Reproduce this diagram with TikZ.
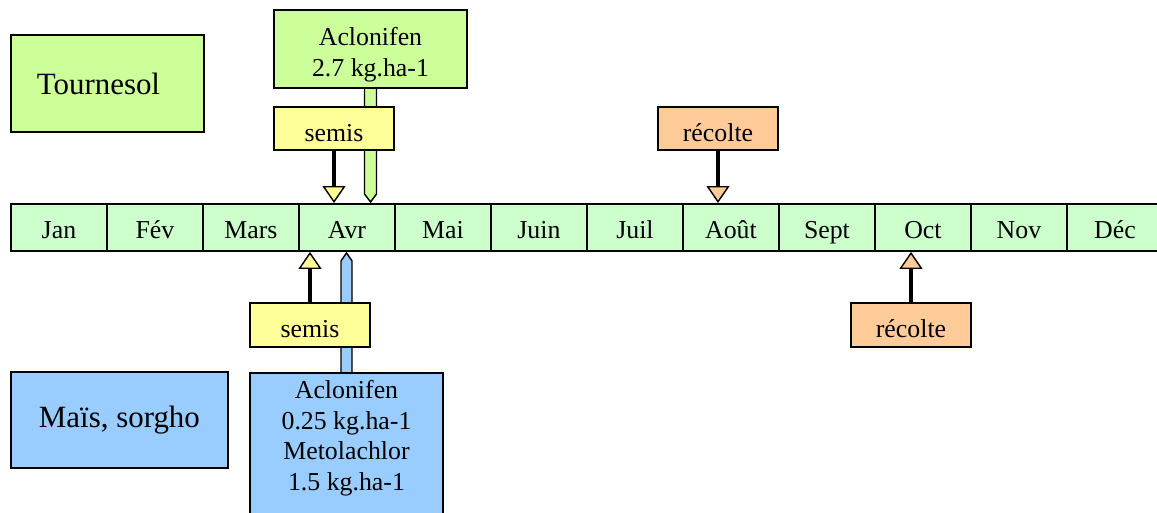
\documentclass[tikz,border=0pt]{standalone}
\usepackage{fontspec}
\setmainfont{Liberation Serif}
\usetikzlibrary{arrows.meta, calc, backgrounds}
\definecolor{monthcolor}{RGB}{204,255,204}
\definecolor{sunflowercolor}{RGB}{204,255,153}
\definecolor{maizecolor}{RGB}{153,204,255}
\definecolor{sowcolor}{RGB}{255,255,153}
\definecolor{harvestcolor}{RGB}{255,204,153}

\begin{document}
\begin{tikzpicture}[
    x=0.02cm, y=-0.02cm,
    base/.style={draw, line width=1.1pt, inner sep=0pt, font=\fontsize{14.7}{17.6}\selectfont},
    month/.style={base, fill=monthcolor, minimum width=1.92cm, minimum height=0.94cm, anchor=north west, text height=0.54cm, text depth=0.08cm},
    crop/.style={base, anchor=north west, font=\fontsize{17.6}{21}\selectfont},
    event/.style={base, minimum width=2.4cm, minimum height=0.87cm, text height=0.6cm, text depth=0.08cm},
    dose/.style={base, align=center, minimum width=3.86cm, inner sep=0.14cm},
    arrow/.style={line width=2pt, -{Triangle[width=0.46cm, length=0.34cm, line width=0.8pt, fill=#1]}},
    shaft/.style={line width=0.8pt, fill=#1}
]
    \useasboundingbox (0,0) rectangle (1157,513);

    % Months
    \foreach \m [count=\i] in {Jan,Fév,Mars,Avr,Mai,Juin,Juil,Août,Sept,Oct,Nov,Déc}
        \node[month] (m\i) at ({10+96*(\i-1)},203) {\m};

    % Crops
    \node[crop, fill=sunflowercolor, minimum width=3.86cm, minimum height=1.94cm] (tournesol) at (10,34) {Tournesol\hspace*{0.36cm}};
    \node[crop, fill=maizecolor, minimum width=4.34cm, minimum height=1.92cm] (mais) at (10,371) {Maïs, sorgho};

    % Treatments
    \node[dose, fill=sunflowercolor, inner ysep=0.06cm, minimum height=1.56cm] (aclo1) at (370.5,49) {\rule{0pt}{0.6cm}Aclonifen\\2.7 kg.ha-1};
    \node[dose, fill=maizecolor, anchor=north] (aclo2) at (346.5,372) {Aclonifen\\0.25 kg.ha-1\\Metolachlor\\1.5 kg.ha-1\rule[-1cm]{0pt}{0pt}};

    % Events
    \node[event, fill=sowcolor] (semis1) at (334,128.5) {semis};
    \node[event, fill=sowcolor] (semis2) at (310,325) {semis};
    \node[event, fill=harvestcolor] (recolte1) at (718,128.5) {récolte};
    \node[event, fill=harvestcolor] (recolte2) at (911,325) {récolte};

    % Treatment shafts
    \begin{scope}[on background layer]
        \draw[shaft=sunflowercolor] ($(aclo1.south)+(-6,0)$) -- ($(aclo1.south |- m4.north)+(-6,-9)$) -- ($(aclo1.south |- m4.north)+(0,-1)$) -- ($(aclo1.south |- m4.north)+(6,-9)$) -- ($(aclo1.south)+(6,0)$);
        \draw[shaft=maizecolor] ($(aclo2.north)+(-5.5,0)$) -- ($(aclo2.north |- m4.south)+(-5.5,9)$) -- ($(aclo2.north |- m4.south)+(0,1)$) -- ($(aclo2.north |- m4.south)+(5.5,9)$) -- ($(aclo2.north)+(5.5,0)$);
    \end{scope}

    % Event arrows
    \draw[arrow=sowcolor] (semis1.south) -- (semis1.south |- m4.north);
    \draw[arrow=sowcolor] (semis2.north) -- (semis2.north |- m4.south);
    \draw[arrow=harvestcolor] (recolte1.south) -- (recolte1.south |- m8.north);
    \draw[arrow=harvestcolor] (recolte2.north) -- (recolte2.north |- m10.south);
\end{tikzpicture}
\end{document}
